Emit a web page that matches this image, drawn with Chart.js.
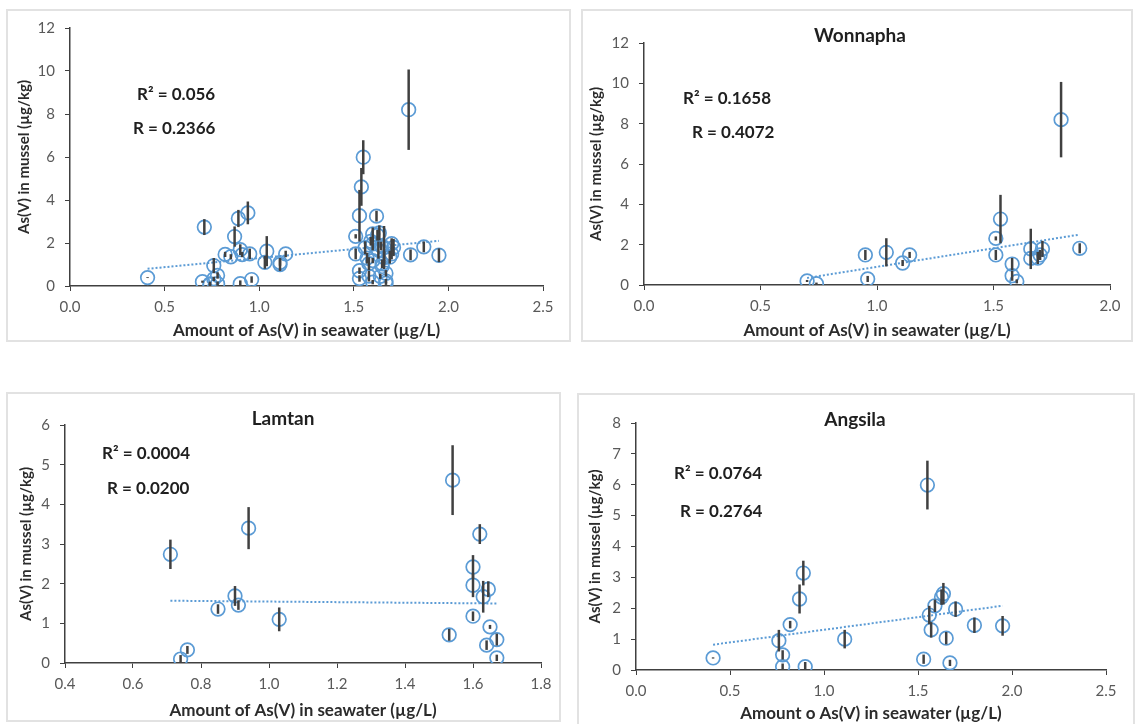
<!DOCTYPE html>
<html>
<head>
<meta charset="utf-8">
<script src="https://cdn.jsdelivr.net/npm/chart.js@4.4.1/dist/chart.umd.min.js"></script>
<style>
  body { margin: 0; background: #fff; width: 1137px; height: 724px; overflow: hidden; position: relative; }
  canvas { position: absolute; }
  .frame { position: absolute; border: 2px solid #e2e2e2; box-sizing: border-box; pointer-events: none; }
</style>
</head>
<body>
<canvas id="c1"></canvas>
<canvas id="c2"></canvas>
<canvas id="c3"></canvas>
<canvas id="c4"></canvas>
<script>
// --- data: x = As(V) in seawater, y = As(V) in mussel, err = error bar half length ---
const wonX = [0.70, 0.74, 0.95, 0.96, 1.04, 1.11, 1.14, 1.51, 1.51, 1.53, 1.58, 1.58, 1.60, 1.66, 1.66, 1.69, 1.70, 1.71, 1.79, 1.87];
const wonY = [0.20, 0.07, 1.49, 0.30, 1.62, 1.09, 1.49, 2.31, 1.49, 3.27, 1.04, 0.46, 0.18, 1.79, 1.32, 1.34, 1.49, 1.79, 8.20, 1.82];
const wonErr = [0.05, 0.05, 0.25, 0.15, 0.70, 0.15, 0.15, 0.10, 0.25, 1.20, 0.30, 0.25, 0.10, 1.00, 0.30, 0.30, 0.25, 0.40, 1.87, 0.25];

const lamX = [0.71, 0.74, 0.76, 0.85, 0.90, 0.91, 0.94, 1.03, 1.53, 1.54, 1.60, 1.60, 1.60, 1.62, 1.63, 1.64, 1.645, 1.65, 1.67, 1.67];
const lamY = [2.74, 0.10, 0.33, 1.36, 1.69, 1.46, 3.40, 1.10, 0.71, 4.61, 1.18, 1.96, 2.42, 3.25, 1.67, 0.45, 1.86, 0.91, 0.59, 0.13];
const lamErr = [0.37, 0.10, 0.10, 0.12, 0.25, 0.12, 0.53, 0.30, 0.15, 0.88, 0.12, 0.30, 0.30, 0.25, 0.40, 0.12, 0.20, 0.05, 0.15, 0.08];

const angX = [0.41, 0.76, 0.78, 0.78, 0.82, 0.87, 0.89, 0.90, 1.11, 1.53, 1.55, 1.56, 1.57, 1.59, 1.625, 1.635, 1.65, 1.67, 1.70, 1.80, 1.95];
const angY = [0.39, 0.95, 0.49, 0.11, 1.47, 2.30, 3.14, 0.11, 1.00, 0.35, 5.99, 1.78, 1.30, 2.08, 2.36, 2.47, 1.03, 0.23, 1.97, 1.45, 1.43];
const angErr = [0.02, 0.35, 0.15, 0.10, 0.12, 0.47, 0.40, 0.15, 0.30, 0.15, 0.79, 0.30, 0.25, 0.20, 0.25, 0.35, 0.20, 0.10, 0.25, 0.25, 0.32];

// all sites together (first panel)
const allX = wonX.concat(lamX, angX);
const allY = wonY.concat(lamY, angY);
const allErr = wonErr.concat(lamErr, angErr);

// linear trendline ends as drawn in the figure
const allTrendX = [0.41, 1.95], allTrendY = [0.80, 2.10];
const wonTrendX = [0.70, 1.87], wonTrendY = [0.35, 2.50];
const lamTrendX = [0.71, 1.67], lamTrendY = [1.57, 1.50];
const angTrendX = [0.41, 1.95], angTrendY = [0.82, 2.08];

const panelTitles = ['', 'Wonnapha', 'Lamtan', 'Angsila'];
const r2Labels = ['R² = 0.056', 'R² = 0.1658', 'R² = 0.0004', 'R² = 0.0764'];
const rLabels = ['R = 0.2366', 'R = 0.4072', 'R = 0.0200', 'R = 0.2764'];
const xTitles = ['Amount of As(V) in seawater (µg/L)', 'Amount of As(V) in seawater (µg/L)',
                 'Amount of As(V) in seawater (µg/L)', 'Amount o As(V) in seawater (µg/L)'];
const yTitle = 'As(V) in mussel (µg/kg)';

const FONT = 'Lato, "Open Sans", sans-serif';
const BLUE = '#5b9bd5';
const DARK = '#404040';

// page layout: box = frame [l,t,r,b], area = plot area [l,t,r,b]
const panels = [
  { id: 'c1', xs: allX, ys: allY, errs: allErr, tx: allTrendX, ty: allTrendY,
    box: [6, 9, 571, 342], area: [70, 28, 543, 286],
    x: [0, 2.5, 0.5], y: [0, 12, 2], yPad: 11, xPad: 3, title: [0, 0], notes: [[137, 95], [133, 129]] },
  { id: 'c2', xs: wonX, ys: wonY, errs: wonErr, tx: wonTrendX, ty: wonTrendY,
    box: [581, 9, 1133, 342], area: [644, 43, 1110, 285],
    x: [0, 2.0, 0.5], y: [0, 12, 2], yPad: 8, xPad: 3, title: [860, 36], notes: [[683, 99], [692, 133]] },
  { id: 'c3', xs: lamX, ys: lamY, errs: lamErr, tx: lamTrendX, ty: lamTrendY,
    box: [6, 392, 561, 722], area: [65, 425, 541, 663],
    x: [0.4, 1.8, 0.2], y: [0, 6, 1], yPad: 13, xPad: 3, title: [283, 419], notes: [[102, 454], [107, 489]] },
  { id: 'c4', xs: angX, ys: angY, errs: angErr, tx: angTrendX, ty: angTrendY,
    box: [577, 393, 1135, 730], area: [636, 423, 1106, 670],
    x: [0, 2.5, 0.5], y: [0, 8, 1], yPad: 11, xPad: 8, title: [855, 420], notes: [[674, 474], [680, 512]] }
];

// error bars + text annotations
const extras = {
  id: 'extras',
  afterDatasetsDraw(chart, args, opts) {
    const ctx = chart.ctx, ys = chart.scales.y, area = chart.chartArea;
    ctx.save();
    ctx.beginPath();
    ctx.rect(area.left, area.top - 2, area.right - area.left, area.bottom - area.top + 2);
    ctx.clip();
    ctx.strokeStyle = DARK;
    ctx.lineWidth = 2.5;
    chart.data.datasets.forEach((ds, i) => {
      if (!ds.errors) return;
      chart.getDatasetMeta(i).data.forEach((pt, j) => {
        const v = ds.data[j].y, e = ds.errors[j];
        ctx.beginPath();
        ctx.moveTo(pt.x, ys.getPixelForValue(v + e));
        ctx.lineTo(pt.x, ys.getPixelForValue(v - e));
        ctx.stroke();
      });
    });
    ctx.restore();

    ctx.save();
    ctx.fillStyle = '#1f1f1f';
    ctx.textBaseline = 'middle';
    if (opts.title) {
      ctx.font = 'bold 19px ' + FONT;
      ctx.textAlign = 'center';
      ctx.fillText(opts.title, opts.titlePos[0], opts.titlePos[1]);
    }
    ctx.font = 'bold 17px ' + FONT;
    ctx.textAlign = 'left';
    opts.notes.forEach((t, k) => ctx.fillText(t, opts.notePos[k][0], opts.notePos[k][1]));
    ctx.restore();
  }
};

panels.forEach((p, k) => {
  const [bl, bt, br, bb] = p.box;
  const [al, at, ar, ab] = p.area;
  const cv = document.getElementById(p.id);
  cv.width = br - bl; cv.height = bb - bt;
  cv.style.left = bl + 'px'; cv.style.top = bt + 'px';

  const frame = document.createElement('div');
  frame.className = 'frame';
  frame.style.left = bl + 'px'; frame.style.top = bt + 'px';
  frame.style.width = (br - bl) + 'px'; frame.style.height = (bb - bt) + 'px';
  document.body.appendChild(frame);

  const pts = p.xs.map((x, i) => ({ x: x, y: p.ys[i] }));
  const trend = p.tx.map((x, i) => ({ x: x, y: p.ty[i] }));
  const tickFont = { family: FONT, size: 15 };

  new Chart(cv, {
    type: 'scatter',
    data: {
      datasets: [
        { type: 'line', data: trend, borderColor: BLUE, borderWidth: 2, borderDash: [2, 2],
          pointRadius: 0, fill: false, order: 2 },
        { data: pts, errors: p.errs, pointStyle: 'circle', pointRadius: 6.8, pointHoverRadius: 6.8,
          borderColor: BLUE, backgroundColor: 'rgba(0,0,0,0)', borderWidth: 1.7, order: 1 }
      ]
    },
    options: {
      responsive: false,
      animation: false,
      devicePixelRatio: 1,
      layout: { padding: { left: 0, top: at - bt, right: br - ar, bottom: 0 } },
      plugins: {
        legend: { display: false },
        tooltip: { enabled: false },
        extras: {
          title: panelTitles[k], titlePos: [p.title[0] - bl, p.title[1] - bt],
          notes: [r2Labels[k], rLabels[k]],
          notePos: p.notes.map(n => [n[0] - bl, n[1] - bt])
        }
      },
      scales: {
        x: {
          type: 'linear', min: p.x[0], max: p.x[1],
          afterFit: s => { s.height = bb - ab; },
          ticks: { stepSize: p.x[2], color: '#595959', font: tickFont, padding: 7,
                   callback: v => Number(v).toFixed(1) },
          grid: { drawOnChartArea: false, drawTicks: true, tickLength: 5, color: DARK },
          border: { display: true, color: DARK, width: 1.5 },
          title: { display: true, text: xTitles[k], color: '#2b2b2b',
                   font: { family: FONT, size: 17, weight: 'bold', lineHeight: 1 },
                   padding: { top: 0, bottom: p.xPad } }
        },
        y: {
          min: p.y[0], max: p.y[1],
          afterFit: s => { s.width = al - bl; },
          ticks: { stepSize: p.y[2], color: '#595959', font: tickFont, padding: 10 },
          grid: { drawOnChartArea: false, drawTicks: true, tickLength: 5, color: DARK },
          border: { display: true, color: DARK, width: 1.5 },
          title: { display: true, text: yTitle, color: '#2b2b2b',
                   font: { family: FONT, size: 15, weight: 'bold', lineHeight: 1 },
                   padding: { top: p.yPad, bottom: 0 } }
        }
      }
    },
    plugins: [extras]
  });
});
</script>
</body>
</html>
